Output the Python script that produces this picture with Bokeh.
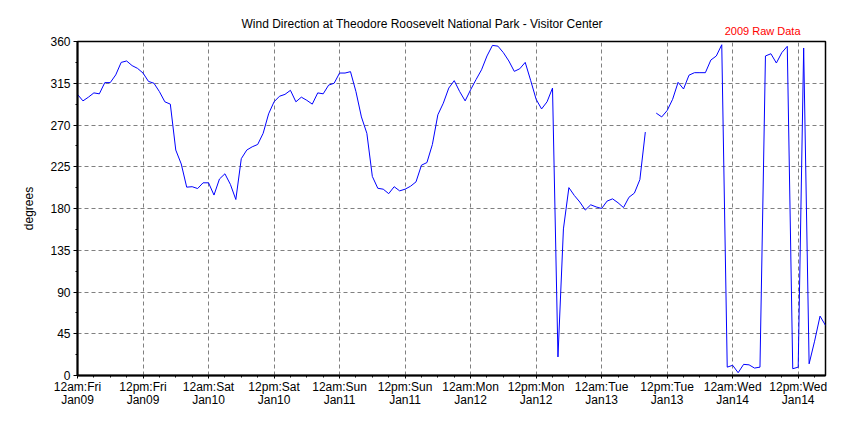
from bokeh.plotting import figure
from bokeh.models import FixedTicker, Title, ColumnDataSource
from bokeh.embed import file_html
from bokeh.resources import INLINE
import numpy as np

# hours since 12am Fri Jan09 2009
hours = list(range(0, 138))
direction = [
    303, 296, 300, 304.6, 303.6, 315.7, 315.7, 324, 337.5, 339,
    334, 331, 326, 317, 315, 306, 295, 292.5, 243, 228,
    203, 203.5, 201.5, 207.7, 207.7, 194.5, 211.8, 217.4, 206, 189.7,
    233.7, 243, 246.5, 249, 261, 282, 295, 301, 303, 307.4,
    295, 300, 296.6, 292.5, 304.6, 303.6, 313, 315, 326, 326,
    327.5, 306, 278.7, 261, 214.6, 201.8, 200.8, 196, 203.5, 199,
    200.8, 204, 208.7, 226.7, 229.5, 249, 281, 293.5, 309.8, 317.8,
    306, 296, 308, 319, 329.5, 344.4, 355.8, 355, 348, 339,
    327.8, 330.6, 337.5, 318, 297.7, 287.3, 295, 309.8, 20, 158,
    202.5, 194, 187, 178.3, 184, 181.7, 180, 188, 190.4, 186.2,
    181, 192.1, 196.6, 211.1, 262.4, float("nan"), 282.8, 278.7, 285.6, 297.7,
    316, 308.8, 323.7, 326.4, 326.4, 326.4, 340, 344.4, 356.5, 9,
    11, 3, 12, 11.5, 8, 9, 344.4, 346.8, 336.8, 348,
    354.8, 7.3, 9, 353, 12.6, 37, 64, 54,
]

x_tick_hours = list(range(0, 133, 12))
x_tick_labels = [
    "12am:Fri\nJan09", "12pm:Fri\nJan09", "12am:Sat\nJan10", "12pm:Sat\nJan10",
    "12am:Sun\nJan11", "12pm:Sun\nJan11", "12am:Mon\nJan12", "12pm:Mon\nJan12",
    "12am:Tue\nJan13", "12pm:Tue\nJan13", "12am:Wed\nJan14", "12pm:Wed\nJan14",
]
y_ticks = [0, 45, 90, 135, 180, 225, 270, 315, 360]

FONT = "Liberation Sans"

p = figure(width=834, height=409, output_backend="svg", toolbar_location=None,
           x_range=(0, 137), y_range=(0, 360),
           min_border_left=77, min_border_right=9, min_border_top=41, min_border_bottom=31)

# red note (closest to the frame), then the main title above it
note = Title(text="2009 Raw Data", align="right", text_font=FONT, text_font_size="11px",
             text_font_style="normal", text_color="red", standoff=9, offset=25)
p.add_layout(note, "above")
main = Title(text="Wind Direction at Theodore Roosevelt National Park - Visitor Center",
             align="left", text_font=FONT, text_font_size="12px",
             text_font_style="normal", text_color="black", standoff=-25, offset=164)
p.add_layout(main, "above")

src = ColumnDataSource(dict(h=hours, d=direction))
p.line("h", "d", source=src, line_color="#0000FF", line_width=1)

p.xaxis.ticker = FixedTicker(ticks=x_tick_hours,
                             minor_ticks=list(np.arange(0, 138, 3)))
p.xaxis.major_label_overrides = {h: lab for h, lab in zip(x_tick_hours, x_tick_labels)}
p.yaxis.ticker = FixedTicker(ticks=y_ticks,
                             minor_ticks=list(np.arange(0, 361, 22.5)))
p.yaxis.axis_label = "degrees"

for ax in (p.xaxis[0], p.yaxis[0]):
    ax.axis_line_width = 2
    ax.axis_line_color = "black"
    ax.major_tick_in = 0
    ax.major_tick_out = 4
    ax.minor_tick_in = 0
    ax.minor_tick_out = 2
    ax.major_tick_line_color = "black"
    ax.minor_tick_line_color = "black"
    ax.major_label_text_font = FONT
    ax.major_label_text_font_size = "12px"
    ax.major_label_text_color = "black"
    ax.axis_label_text_font = FONT
    ax.axis_label_text_font_size = "12px"
    ax.axis_label_text_font_style = "normal"
    ax.axis_label_text_color = "black"

p.xaxis.major_tick_out = 3
p.xaxis.major_label_standoff = 1
p.xaxis.major_label_text_line_height = 0.95
p.yaxis.major_label_standoff = 3
p.yaxis.axis_label_standoff = 11

for g in (p.xgrid[0], p.ygrid[0]):
    g.grid_line_color = "#808080"
    g.grid_line_dash = "4 3"
    g.grid_line_width = 1

p.outline_line_color = "black"
p.outline_line_width = 1.5
p.background_fill_color = "white"
p.border_fill_color = "white"

open("out.html", "w").write(file_html(p, INLINE))
